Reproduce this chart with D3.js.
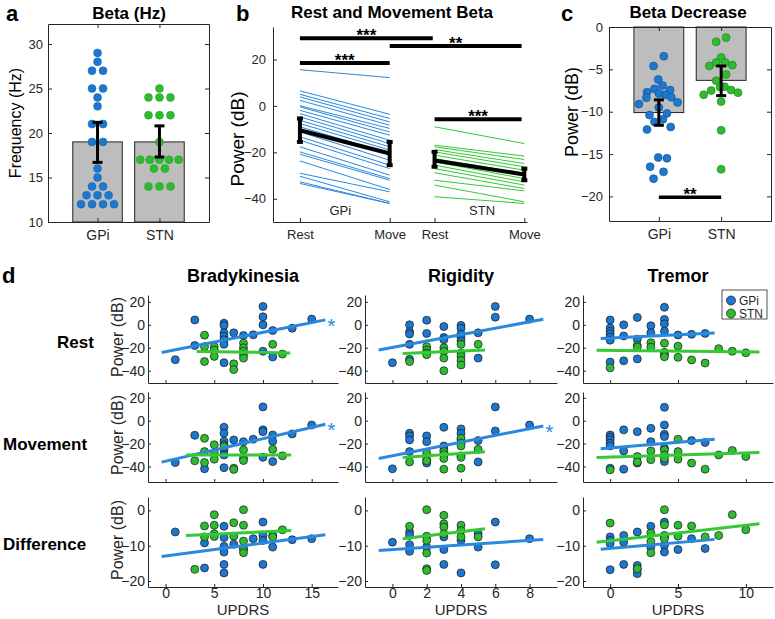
<!DOCTYPE html>
<html><head><meta charset="utf-8">
<script src="https://cdn.jsdelivr.net/npm/d3@7"></script>
<style>body{margin:0;background:#fff}svg{display:block}</style>
</head><body><svg id="fig" width="775" height="619"></svg>
<script>
// ---------------- DATA ----------------
const groups = ["GPi", "STN"];
// panel a: peak beta frequency (Hz)
const freqGPi = [29,28,27,27,25,25,24,23,21,21,19,19,16,15,14,14,13,13,13,12,12,12,12];
const freqSTN = [25,24,24,24,22,22,22,19,17,17,17,17,17,16,16,14,14,14];
const freqMean = [19.0, 19.0];
const freqErr = [[16.7, 21.2], [17.3, 20.8]];
const freqTicks = [10, 15, 20, 25, 30];

// panel b: rest / move beta power (dB)
const bConds = ["Rest", "Move", "Rest", "Move"];
const bCondPos = [1, 2, 2.5, 3.5];
const restGPi = [15.6,6.5,5,3.9,2.4,0.1,-0.4,-1.9,-3.3,-4.7,-6.2,-7.6,-9,-11.2,-13.3,-14.8,-17.6,-19.8,-20.8,-23.7,-29,-30.3,-32.7,-33.4];
const moveGPi = [12.2,-3.6,-5.4,-6.9,-8.3,-9.7,-11.2,-12.6,-14.8,-16.2,-17.6,-19,-20.5,-23.4,-25.5,-27,-29.8,-31.3,-32,-36,-37,-41.3,-42,-42];
const restSTN = [-9,-16.9,-17.6,-18.8,-19.8,-21.2,-22.7,-24.1,-25.5,-27,-28.8,-32,-34.1,-39.1];
const moveSTN = [-16.2,-21.6,-23.1,-24.8,-26.2,-27.7,-29.1,-31.3,-32.7,-34.1,-35.6,-36.6,-41.3,-42];
const bMeanGPi = [-10.5, -20.5];
const bErrGPi = [[-5.4, -15.5], [-15.5, -25.5]];
const bMeanSTN = [-23.5, -29.5];
const bErrSTN = [[-19.8, -26.2], [-27, -32]];
const bTicks = [-40, -20, 0, 20];
const bSig = [
  {from: 1, to: 2, level: 18.5, label: "***"},
  {from: 1, to: 2.48, level: 29.2, label: "***"},
  {from: 2, to: 3.47, level: 25.8, label: "**"},
  {from: 2.5, to: 3.47, level: -5.7, label: "***"}
];

// panel c: beta decrease (dB) with horizontal jitter (category units)
const decGPi = [-3.45,-4.6,-6.2,-6.9,-7.3,-7.45,-7.7,-8.0,-7.85,-8.35,-8.3,-9.1,-8.9,-9.5,-10.2,-10.4,-10.9,-11.2,-11.8,-12.1,-15.4,-15.5,-16.5,-17.1,-17.9];
const decGPiJit = [0.08,-0.085,-0.01,0.06,-0.07,0.18,-0.19,0.10,0,-0.20,0.20,-0.32,0.30,0,0.13,-0.15,0.065,-0.07,0.19,-0.19,-0.01,0.13,-0.14,0.075,-0.085];
const decSTN = [-1.25,-1.75,-3.6,-4.2,-4.2,-4.5,-4.6,-5.6,-6.35,-7.05,-7.1,-7.5,-7.45,-7.75,-8.0,-8.8,-12.2,-16.8];
const decSTNJit = [0.08,-0.08,0,-0.08,0.065,0.18,-0.19,0.08,-0.08,0.055,-0.015,-0.16,0.16,0.27,-0.28,0,0,0];
const decMean = [-10.1, -6.3];
const decErr = [[-8.6, -11.6], [-4.6, -8.1]];
const decTicks = [-20, -15, -10, -5, 0];
const decSig = {from: 1, to: 2, level: -20.1, label: "**"};

// panel d: UPDRS subscores vs power
const colNames = ["Bradykinesia", "Rigidity", "Tremor"];
const rowNames = ["Rest", "Movement", "Difference"];
const colXTicks = [[0,5,10,15],[0,2,4,6,8],[0,5,10]];
const rowYTicks = [[-40,-20,0,20],[-40,-20,0,20],[-20,-10,0]];

const restBradyGPi = [[1,-30.4],[3,4.3],[3,-18],[6,1.4],[6,-0.6],[6,-7],[6,-10],[6,-13],[6,-17],[6,-33],[7,-7],[8,-9.3],[9,-8.7],[10,16],[10,7],[10,0],[10,-23],[11,-5],[11,-28],[13,-3],[15,5]];
const restBradySTN = [[4,-9],[4,-19],[4,-32],[5,-19],[5,-22],[5,-27.5],[7,-34],[7,-39],[8,-16],[8,-20],[8,-23],[8,-26],[8,-29],[11,-17],[12,-25.5]];
const restRigGPi = [[0,-33],[1,0],[1,-6],[1,-8],[1,-17],[1,-30],[2,4],[2,-7.5],[3,-1.5],[3,-11],[3,-13],[4,-0.5],[4,-3],[4,-8],[4,-11],[4,-14],[5,-7],[5,-29],[6,16],[6,6.7],[8,5]];
const restRigSTN = [[1,-32],[2,-19],[2,-22],[2,-24.6],[2,-26],[3,-20],[3,-23],[3,-29],[3,-40],[4,-17],[4,-24.6],[4,-27.5],[4,-31],[4,-35],[5,-17]];
const restTremGPi = [[0,4.2],[0,-2.8],[0,-5.6],[0,-7.8],[0,-10.6],[0,-13.4],[0,-32.5],[1,0],[1,-9.7],[1,-31.4],[2,6.4],[2,-12.5],[2,-29.7],[3,-0.8],[3,-6.9],[4,15.3],[4,4.7],[4,0.8],[4,-5.6],[5,-8.9],[6,-8.3],[7,-7.5]];
const restTremSTN = [[0,-37.5],[2,-18],[2,-19.4],[3,-15.6],[3,-19.4],[4,-16],[4,-24],[4,-26.4],[4,-27.8],[5,-18.6],[5,-28.3],[6,-30.6],[7,-33.3],[8,-20.8],[9,-23],[10,-24.4]];

const moveBradyGPi = [[1,-36.5],[3,-12.8],[4,-42],[6,-5.8],[6,-11],[6,-18],[6,-21],[6,-25.5],[6,-30],[6,-41],[7,-16.8],[8,-18.3],[9,-16.2],[10,12],[10,-8],[10,-9.6],[10,-32],[11,-12.5],[11,-18],[11,-35.7],[13,-11.6],[15,-3.8]];
const moveBradySTN = [[3,-35],[4,-15.4],[4,-27],[4,-36.5],[5,-21],[5,-28],[5,-33.6],[6,-22.6],[7,-41.5],[7,-42.5],[8,-25.5],[8,-32.8],[8,-34.8],[11,-25],[12,-30.7]];
const moveRigGPi = [[0,-42],[1,-11],[1,-13.3],[1,-16.8],[1,-27],[2,-13.3],[2,-18.3],[2,-34],[2,-37],[3,-5.8],[3,-22],[3,-25.5],[4,-7.2],[4,-11],[4,-16.8],[4,-30.7],[5,-17.4],[5,-36],[6,12],[6,-9],[8,-3.8]];
const moveRigSTN = [[1,-36],[2,-28.4],[2,-35],[3,-27],[3,-29.5],[3,-33],[3,-42.3],[4,-15.4],[4,-19.7],[4,-22],[4,-32],[4,-41.5],[5,-25]];
const moveTremGPi = [[0,-12.5],[0,-14.5],[0,-16.8],[0,-19.7],[0,-22],[0,-41.4],[1,-8],[1,-26.4],[1,-42.3],[2,-9.6],[2,-37],[3,-6.7],[3,-18.3],[4,11.6],[4,-3.8],[4,-11.9],[4,-13.9],[4,-24],[4,-35.7],[6,-17.4],[7,-19]];
const moveTremSTN = [[0,-42.9],[2,-31.3],[2,-36],[3,-26.4],[3,-34],[4,-25.5],[4,-29.9],[4,-32.8],[5,-16.2],[5,-27],[5,-33.6],[6,-37],[7,-42.3],[8,-29.9],[9,-26],[10,-31.3]];

const diffBradyGPi = [[1,-6.1],[4,-9.2],[4,-16.3],[6,-4.5],[6,-7.7],[6,-10.2],[6,-11.8],[6,-15.3],[6,-17.7],[7,-9.6],[8,-10.8],[9,-8],[10,-3.3],[10,-7.1],[10,-8.5],[10,-15.3],[11,-7.1],[11,-10.4],[13,-8.3],[15,-8]];
const diffBradySTN = [[3,-16.7],[4,-4.4],[4,-7.5],[5,-1.2],[5,-4.2],[5,-6.6],[5,-7.4],[7,-3.5],[7,-7.3],[8,0.2],[8,-4.2],[8,-8.7],[8,-11.1],[8,-12],[11,-7.5],[12,-5.5]];
const diffRigGPi = [[0,-9],[1,-6.1],[1,-7.1],[1,-9.7],[1,-11.6],[2,-10.4],[3,-7.5],[3,-11.1],[3,-15.3],[4,-8.5],[4,-17.7],[5,-6.6],[5,-10.4],[6,-3.3],[6,-15.4],[8,-8]];
const diffRigSTN = [[1,-4.5],[2,0.2],[2,-7.3],[2,-8.5],[2,-12.1],[2,-16.5],[2,-17],[3,-1.4],[3,-3.8],[3,-4.7],[3,-6.6],[4,-4.2],[4,-5.7],[4,-7.5],[5,-7.5]];
const diffTremGPi = [[0,-7.5],[0,-8.5],[0,-9.4],[0,-16.8],[1,-7.1],[1,-9],[1,-15.3],[2,-6.1],[2,-15.6],[2,-16.7],[2,-17.9],[3,-4.5],[3,-10.4],[4,-3.3],[4,-7.5],[4,-9.9],[4,-11.8],[5,-11.1],[6,-8],[7,-10.8]];
const diffTremSTN = [[0,-3.6],[2,-16.5],[3,-6.4],[3,-8.8],[3,-12],[4,0.2],[4,-4.1],[4,-7.1],[4,-8],[5,-4.2],[5,-7.3],[6,-4.4],[7,-7.5],[8,-7.1],[9,-1.2],[10,-5.5]];

// linear fits [intercept, slope]
const fitGPi = [[[-23.5,1.695],[-19.7,2.79],[-11.6,0.595]],
                [[-35.4,1.964],[-30.7,2.96],[-23.9,1.0]],
                [[-12.9,0.365],[-11.07,0.322],[-10.77,0.333]]];
const fitSTN = [[[-22.7,-0.139],[-25.4,0.63],[-22.3,-0.117]],
                [[-29.9,0],[-32.7,1.05],[-31.7,0.351]],
                [[-7.37,0.13],[-8.38,0.588],[-8.59,0.435]]];
// significant GPi correlations (row, col)
const sigCorr = [[0,0],[1,0],[1,1]];

const scatGPi = [[restBradyGPi,restRigGPi,restTremGPi],[moveBradyGPi,moveRigGPi,moveTremGPi],[diffBradyGPi,diffRigGPi,diffTremGPi]];
const scatSTN = [[restBradySTN,restRigSTN,restTremSTN],[moveBradySTN,moveRigSTN,moveTremSTN],[diffBradySTN,diffRigSTN,diffTremSTN]];

// ---------------- STYLE ----------------
const FONT = "Arial, 'Liberation Sans', Helvetica, sans-serif";
const INK = "#262626";
const BLUE = "#1c77d0", GREEN = "#2fbb2f";
const BLUE_L = "#2a89de", GREEN_L = "#35c935";
const GRAY = "#bdbdbd";

const svg = d3.select("#fig").style("font-family", FONT);

function styleAxis(g, fs) {
  g.select("path.domain").attr("stroke", INK).attr("stroke-width", 1);
  g.selectAll(".tick line").attr("stroke", INK);
  g.selectAll("text").attr("fill", INK).style("font-size", fs + "px").style("font-family", FONT);
}
function txt(x, y, s, fs, opts = {}) {
  const t = svg.append("text").attr("x", x).attr("y", y).text(s)
    .style("font-size", fs + "px").style("font-family", FONT).attr("fill", opts.fill || "#000")
    .attr("text-anchor", opts.anchor || "start").style("font-weight", opts.bold ? "bold" : "normal");
  if (opts.rot) t.attr("transform", `rotate(-90,${x},${y})`);
  return t;
}
function errBar(g, x, y0, y1, cap, lw) {
  g.append("line").attr("x1", x).attr("x2", x).attr("y1", y0).attr("y2", y1).attr("stroke", "#000").attr("stroke-width", lw);
  [y0, y1].forEach(y => g.append("line").attr("x1", x - cap).attr("x2", x + cap).attr("y1", y).attr("y2", y).attr("stroke", "#000").attr("stroke-width", lw));
}
function sigBar(g, x0, x1, y, label, fs, lw) {
  g.append("line").attr("x1", x0).attr("x2", x1).attr("y1", y).attr("y2", y).attr("stroke", "#000").attr("stroke-width", lw);
  g.append("text").attr("x", (x0 + x1) / 2).attr("y", y - 2 + fs * 0.28).text(label)
    .attr("text-anchor", "middle").style("font-size", fs + "px").style("font-weight", "bold").style("font-family", FONT);
}

// panel letters
txt(6, 21, "a", 22, {bold: true});
txt(236, 21, "b", 22, {bold: true});
txt(561, 21, "c", 22, {bold: true});
txt(2, 283, "d", 22, {bold: true});

// ---------------- PANEL A ----------------
{
  const x = d3.scaleLinear().domain([0.2, 2.8]).range([48, 209]);
  const y = d3.scaleLinear().domain([10, 32.25]).range([222, 24]);
  const g = svg.append("g");
  g.selectAll("rect.bar").data(freqMean).join("rect")
    .attr("x", (d, i) => x(i + 0.6)).attr("width", x(1.4) - x(0.6))
    .attr("y", d => y(d)).attr("height", d => y(10) - y(d))
    .attr("fill", GRAY).attr("stroke", INK).attr("stroke-width", 1);
  [freqGPi, freqSTN].forEach((vals, gi) => {
    const counts = d3.rollup(vals, v => v.length, d => d);
    const seen = new Map();
    const pts = vals.map(v => {
      const n = counts.get(v), k = seen.get(v) || 0; seen.set(v, k + 1);
      const sp = n > 4 ? 9.6 : 11;
      return {v, dx: (k - (n - 1) / 2) * sp};
    });
    g.selectAll(null).data(pts).join("circle")
      .attr("cx", d => x(gi + 1) + d.dx).attr("cy", d => y(d.v)).attr("r", 4)
      .attr("fill", gi ? GREEN : BLUE).attr("stroke", gi ? "#239a23" : "#1865b3").attr("stroke-width", 0.5);
  });
  freqErr.forEach((e, i) => errBar(g, x(i + 1), y(e[0]), y(e[1]), 5, 3));
  const ticks = freqTicks;
  styleAxis(g.append("g").attr("transform", "translate(48,0)").call(d3.axisLeft(y).tickValues(ticks).tickSize(-4).tickSizeOuter(0).tickPadding(5)), 13);
  styleAxis(g.append("g").attr("transform", "translate(209,0)").call(d3.axisRight(y).tickValues(ticks).tickSize(-4).tickSizeOuter(0).tickFormat("")), 13);
  styleAxis(g.append("g").attr("transform", "translate(0,222)").call(d3.axisBottom(x).tickValues([1, 2]).tickFormat((d, i) => groups[i]).tickSize(-4).tickSizeOuter(0).tickPadding(8)), 14);
  styleAxis(g.append("g").attr("transform", "translate(0,24)").call(d3.axisTop(x).tickValues([1, 2]).tickSize(-4).tickSizeOuter(0).tickFormat("")), 13);
  txt(129, 19, "Beta (Hz)", 17, {bold: true, anchor: "middle"});
  txt(21, 123, "Frequency (Hz)", 16, {anchor: "middle", rot: true});
}

// ---------------- PANEL B ----------------
{
  const x = d3.scaleLinear().domain([0.7, 3.53]).range([273, 527]);
  const y = d3.scaleLinear().domain([-50, 34]).range([222, 27]);
  const g = svg.append("g");
  restGPi.forEach((r, i) => g.append("line").attr("x1", x(bCondPos[0])).attr("x2", x(bCondPos[1]))
    .attr("y1", y(r)).attr("y2", y(moveGPi[i])).attr("stroke", BLUE_L).attr("stroke-width", 1));
  restSTN.forEach((r, i) => g.append("line").attr("x1", x(bCondPos[2])).attr("x2", x(bCondPos[3]))
    .attr("y1", y(r)).attr("y2", y(moveSTN[i])).attr("stroke", GREEN_L).attr("stroke-width", 1));
  const line = d3.line().x(d => x(d[0])).y(d => y(d[1]));
  g.append("path").attr("d", line([[bCondPos[0], bMeanGPi[0]], [bCondPos[1], bMeanGPi[1]]])).attr("stroke", "#000").attr("stroke-width", 4).attr("fill", "none");
  g.append("path").attr("d", line([[bCondPos[2], bMeanSTN[0]], [bCondPos[3], bMeanSTN[1]]])).attr("stroke", "#000").attr("stroke-width", 4).attr("fill", "none");
  bErrGPi.forEach((e, i) => errBar(g, x(bCondPos[i]), y(e[0]), y(e[1]), 3, 4));
  bErrSTN.forEach((e, i) => errBar(g, x(bCondPos[i + 2]), y(e[0]), y(e[1]), 3, 4));
  bSig.forEach(s => sigBar(g, x(s.from), x(s.to), y(s.level), s.label, 17, 4));
  styleAxis(g.append("g").attr("transform", "translate(273,0)").call(d3.axisLeft(y).tickValues(bTicks).tickSize(-4).tickSizeOuter(0).tickPadding(7)), 13);
  styleAxis(g.append("g").attr("transform", "translate(0,222)").call(d3.axisBottom(x).tickValues(bCondPos).tickFormat((d, i) => bConds[i]).tickSize(-4).tickSizeOuter(0).tickPadding(8)), 13);
  txt(x(1.45), 215, groups[0], 13, {anchor: "middle", fill: INK});
  txt(x(3.03), 215, groups[1], 13, {anchor: "middle", fill: INK});
  txt(392, 18, "Rest and Movement Beta", 17, {bold: true, anchor: "middle"});
  txt(244, 139, "Power (dB)", 19, {anchor: "middle", rot: true});
}

// ---------------- PANEL C ----------------
{
  const x = d3.scaleLinear().domain([0.2, 2.8]).range([609, 771]);
  const y = d3.scaleLinear().domain([-22.9, 0]).range([221, 27]);
  const g = svg.append("g");
  g.selectAll("rect.bar").data(decMean).join("rect")
    .attr("x", (d, i) => x(i + 0.6)).attr("width", x(1.4) - x(0.6))
    .attr("y", y(0)).attr("height", d => y(d) - y(0))
    .attr("fill", GRAY).attr("stroke", INK).attr("stroke-width", 1);
  [[decGPi, decGPiJit], [decSTN, decSTNJit]].forEach(([vals, jit], gi) => {
    g.selectAll(null).data(vals).join("circle")
      .attr("cx", (d, i) => x(gi + 1 + jit[i])).attr("cy", d => y(d)).attr("r", 4)
      .attr("fill", gi ? GREEN : BLUE).attr("stroke", gi ? "#1f7f1f" : "#154f8a").attr("stroke-width", 0.6);
  });
  decErr.forEach((e, i) => errBar(g, x(i + 1), y(e[0]), y(e[1]), 5, 3));
  sigBar(g, x(decSig.from), x(decSig.to), y(decSig.level), decSig.label, 17, 3.5);
  styleAxis(g.append("g").attr("transform", "translate(609,0)").call(d3.axisLeft(y).tickValues(decTicks).tickSize(-4).tickSizeOuter(0).tickPadding(6)), 13);
  styleAxis(g.append("g").attr("transform", "translate(771,0)").call(d3.axisRight(y).tickValues(decTicks).tickSize(-4).tickSizeOuter(0).tickFormat("")), 13);
  styleAxis(g.append("g").attr("transform", "translate(0,221)").call(d3.axisBottom(x).tickValues([1, 2]).tickFormat((d, i) => groups[i]).tickSize(-4).tickSizeOuter(0).tickPadding(8)), 14);
  styleAxis(g.append("g").attr("transform", "translate(0,27)").call(d3.axisTop(x).tickValues([1, 2]).tickSize(-4).tickSizeOuter(0).tickFormat("")), 13);
  txt(688, 18, "Beta Decrease", 17, {bold: true, anchor: "middle"});
  txt(578, 112, "Power (dB)", 18, {anchor: "middle", rot: true});
}

// ---------------- PANEL D ----------------
{
  const colX = [[148, 338], [365, 557], [583, 773]];
  const colDom = [[-1.8, 17.7], [-1.6, 9.6], [-2, 12]];
  const rowY = [[383, 295], [482, 392], [587, 497]];
  const rowDom = [[-50.7, 26], [-53.5, 25], [-21.7, 3.8]];
  const colCenter = colX.map(c => (c[0] + c[1]) / 2);
  colNames.forEach((n, c) => txt(colCenter[c], 282, n, 18, {bold: true, anchor: "middle"}));
  const rowLabelX = [57, 3, 3];
  const rowLabelY = [348, 450, 550];
  rowNames.forEach((n, r) => txt(rowLabelX[r], rowLabelY[r], n, 17, {bold: true}));

  for (let r = 0; r < 3; r++) {
    txt(123, (rowY[r][0] + rowY[r][1]) / 2 - 2, "Power (dB)", 16, {anchor: "middle", rot: true, fill: INK});
    for (let c = 0; c < 3; c++) {
      const x = d3.scaleLinear().domain(colDom[c]).range(colX[c]);
      const y = d3.scaleLinear().domain(rowDom[r]).range(rowY[r]);
      const g = svg.append("g");
      const drawPts = (pts, fill) => g.selectAll(null).data(pts).join("circle")
        .attr("cx", d => x(d[0])).attr("cy", d => y(d[1])).attr("r", 4)
        .attr("fill", fill).attr("stroke", "#1a1a1a").attr("stroke-width", 0.7);
      drawPts(scatGPi[r][c], BLUE);
      drawPts(scatSTN[r][c], GREEN);
      const fitLine = (pts, fit, col) => {
        const [lo, hi] = d3.extent(pts, d => d[0]);
        const pad = (hi - lo) * 0.1;
        const xs = [lo - pad, hi + pad];
        g.append("line").attr("x1", x(xs[0])).attr("x2", x(xs[1]))
          .attr("y1", y(fit[0] + fit[1] * xs[0])).attr("y2", y(fit[0] + fit[1] * xs[1]))
          .attr("stroke", col).attr("stroke-width", 3);
        return xs[1];
      };
      const xEnd = fitLine(scatGPi[r][c], fitGPi[r][c], BLUE_L);
      fitLine(scatSTN[r][c], fitSTN[r][c], GREEN_L);
      if (sigCorr.some(s => s[0] === r && s[1] === c)) {
        const fs = 21;
        g.append("text").attr("x", x(xEnd) + 2).attr("y", y(fitGPi[r][c][0] + fitGPi[r][c][1] * xEnd) + fs * 0.62)
          .text("*").attr("fill", BLUE_L).style("font-size", fs + "px").style("font-family", FONT);
      }
      styleAxis(g.append("g").attr("transform", `translate(${colX[c][0]},0)`)
        .call(d3.axisLeft(y).tickValues(rowYTicks[r]).tickSize(-3).tickSizeOuter(0).tickPadding(3)), 14);
      const xa = d3.axisBottom(x).tickValues(colXTicks[c]).tickSize(-3).tickSizeOuter(0).tickPadding(1);
      if (r < 2) xa.tickFormat("");
      styleAxis(g.append("g").attr("transform", `translate(0,${rowY[r][0]})`).call(xa), 14);
      if (r === 2) txt(colCenter[c], 615, "UPDRS", 15, {anchor: "middle", fill: INK});
    }
  }
  // legend
  const lg = svg.append("g");
  lg.append("rect").attr("x", 722).attr("y", 290).attr("width", 45).attr("height", 29)
    .attr("fill", "#fff").attr("stroke", INK).attr("stroke-width", 0.8);
  groups.forEach((n, i) => {
    lg.append("circle").attr("cx", 731).attr("cy", 300.5 + i * 13).attr("r", 4.5)
      .attr("fill", i ? GREEN : BLUE).attr("stroke", "#1a1a1a").attr("stroke-width", 0.7);
    lg.append("text").attr("x", 739).attr("y", 305 + i * 13).text(n)
      .style("font-size", "12px").style("font-family", FONT).attr("fill", INK);
  });
}
</script></body></html>
